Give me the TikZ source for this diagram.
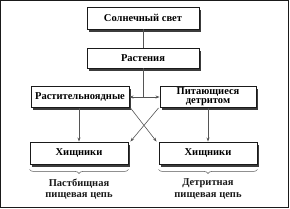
\documentclass[tikz,border=0pt]{standalone}
\usepackage{fontspec}
\setmainfont{Liberation Serif}
\usepackage{tikz}
\usetikzlibrary{arrows.meta,shadows,decorations.pathreplacing}
\definecolor{fwink}{HTML}{1A1A1A}
\definecolor{fwgrey}{HTML}{555555}
\tikzset{
  blk/.style  = {rectangle, draw=fwink, line width=0.9pt, fill=white,
                 minimum height=21pt, inner sep=1pt,
                 font=\fontsize{10.5}{11}\selectfont\bfseries, align=center,
                 drop shadow={shadow xshift=2pt, shadow yshift=-2.5pt,
                 fill=fwink, opacity=0.85}},
  ed/.style   = {-{Stealth[length=4pt,width=3pt]}, draw=fwgrey, line width=0.6pt},
  ln/.style   = {draw=fwgrey, line width=0.6pt},
  brc/.style  = {draw=fwgrey, line width=0.5pt,
                 decorate, decoration={brace, mirror, amplitude=4pt}},
  lbl/.style  = {font=\fontsize{10.5}{11.5}\selectfont\bfseries, text=fwink,
                 align=center, inner sep=1pt},
}
\begin{document}
\begin{tikzpicture}[x=1pt,y=1pt]
  \useasboundingbox (0,0) rectangle (290,-209);
  \draw[fwink, line width=1.4pt] (0.7,-0.7) rectangle (288.5,-207.3);
  % top of the chain
  \node[blk, minimum width=112pt, minimum height=22pt] (sun) at (143,-18) {Солнечный свет};
  \node[blk, minimum width=112pt, minimum height=20pt] (plants) at (143,-58) {Растения};
  % consumers
  \node[blk, minimum width=98pt] (herb) at (80,-97) {Растительноядные};
  \node[blk, minimum width=96pt] (detr) at (208,-97) {Питающиеся\\[-2pt]детритом};
  \node[blk, minimum width=98pt, minimum height=22pt] (pred1) at (79,-153) {Хищники};
  \node[blk, minimum width=98pt, minimum height=22pt] (pred2) at (208,-153) {Хищники};
  \coordinate (split) at (143,-97);
  \draw[ln] (sun) -- (plants);
  \draw[ln] (plants) -- (split);
  \draw[ed] (split) -- (herb.east);
  \draw[ed] (split) -- (detr.west);
  \draw[ed] (herb.south -| pred1) -- (pred1.north);
  \draw[ed] (detr.south -| pred2) -- (pred2.north);
  % crossing links
  \draw[ed] ([xshift=1pt]herb.south east) -- ([xshift=-2pt]pred2.north west);
  \draw[ed] ([xshift=-1pt]detr.south west) -- ([xshift=2pt]pred1.north east);
  % the two chains
  \draw[brc] ([yshift=-5pt]pred1.south west) -- ([yshift=-5pt]pred1.south east)
    node[midway, below=8pt, lbl] (chain1) {Пастбищная\\пищевая цепь};
  \draw[brc] ([yshift=-5pt]pred2.south west) -- ([yshift=-5pt]pred2.south east)
    node[midway, below=8pt, lbl] (chain2) {Детритная\\пищевая цепь};
\end{tikzpicture}
\end{document}
